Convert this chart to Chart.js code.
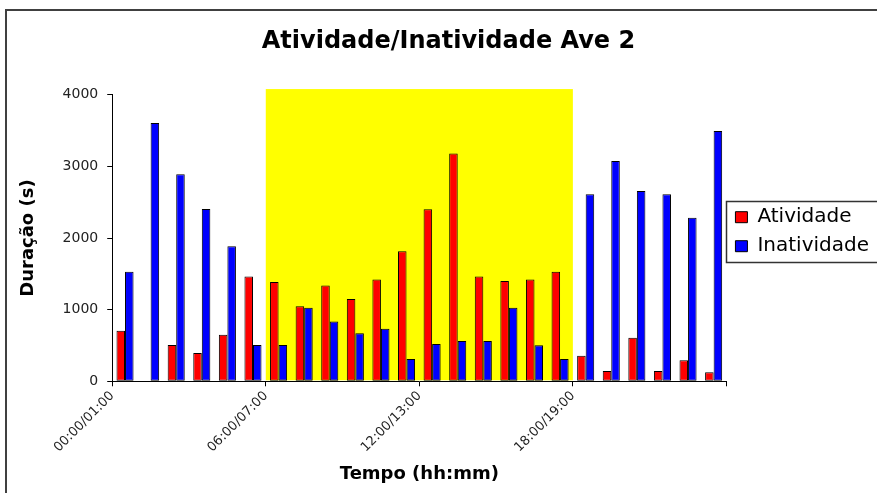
<!DOCTYPE html>
<html>
<head>
<meta charset="utf-8">
<script src="https://cdn.jsdelivr.net/npm/chart.js@4/dist/chart.umd.min.js"></script>
<style>
  html, body { margin: 0; padding: 0; background: #fff; }
  #wrap { width: 877px; height: 493px; }
</style>
</head>
<body>
<div id="wrap"><canvas id="c" width="877" height="493"></canvas></div>
<script>
const categories = [
  '00:00/01:00', '01:00/02:00', '02:00/03:00', '03:00/04:00', '04:00/05:00', '05:00/06:00',
  '06:00/07:00', '07:00/08:00', '08:00/09:00', '09:00/10:00', '10:00/11:00', '11:00/12:00',
  '12:00/13:00', '13:00/14:00', '14:00/15:00', '15:00/16:00', '16:00/17:00', '17:00/18:00',
  '18:00/19:00', '19:00/20:00', '20:00/21:00', '21:00/22:00', '22:00/23:00', '23:00/24:00'
];
const atividade = [706, 0, 507, 395, 651, 1464, 1385, 1046, 1338, 1148, 1422, 1817,
                   2402, 3179, 1464, 1399, 1422, 1529, 356, 144, 609, 144, 293, 125];
const inatividade = [1529, 3606, 2890, 2407, 1887, 507, 507, 1027, 836, 669, 734, 311,
                     520, 562, 562, 1027, 502, 311, 2612, 3076, 2658, 2612, 2282, 3495];
const yTicks = [0, 1000, 2000, 3000, 4000];
const labelEvery = 6;
// highlighted (daylight) period: categories 6..17
const highlightStart = 6;
const highlightEnd = 17;
const highlightTop = 4080;

const bgPlugin = {
  id: 'bg',
  beforeDraw(chart) {
    const ctx = chart.ctx;
    ctx.save();
    ctx.fillStyle = '#ffffff';
    ctx.fillRect(0, 0, chart.width, chart.height);
    ctx.restore();
  },
  afterDraw(chart) {
    const ctx = chart.ctx;
    ctx.save();
    ctx.strokeStyle = '#404040';
    ctx.lineWidth = 2;
    ctx.strokeRect(6, 10, chart.width + 20, chart.height + 20);
    const lg = chart.legend;
    if (lg && lg.legendHitBoxes && lg.legendHitBoxes.length) {
      const hb = lg.legendHitBoxes;
      const top = hb[0].top - 6;
      const bot = hb[hb.length - 1].top + hb[hb.length - 1].height + 6;
      ctx.strokeStyle = '#333';
      ctx.lineWidth = 1.5;
      ctx.strokeRect(Math.round(lg.left) + 0.5, Math.round(top) + 0.5, chart.width, Math.round(bot - top));
    }
    ctx.restore();
  }
};

const highlightPlugin = {
  id: 'highlight',
  beforeDatasetsDraw(chart) {
    const xs = chart.scales.x, ys = chart.scales.y;
    const left = (xs.getPixelForValue(highlightStart - 1) + xs.getPixelForValue(highlightStart)) / 2;
    const right = (xs.getPixelForValue(highlightEnd) + xs.getPixelForValue(highlightEnd + 1)) / 2;
    const top = ys.getPixelForValue(highlightTop);
    const bottom = ys.getPixelForValue(0) - 1;
    const ctx = chart.ctx;
    ctx.save();
    ctx.fillStyle = '#FFFF00';
    ctx.fillRect(left, top, right - left, bottom - top);
    ctx.restore();
  }
};

new Chart(document.getElementById('c'), {
  type: 'bar',
  data: {
    labels: categories,
    datasets: [
      { label: 'Atividade', data: atividade, backgroundColor: '#FF0000', borderColor: '#000', borderWidth: 1, borderSkipped: false },
      { label: 'Inatividade', data: inatividade, backgroundColor: '#0000FF', borderColor: '#000', borderWidth: 1, borderSkipped: false }
    ]
  },
  options: {
    responsive: false,
    animation: false,
    devicePixelRatio: 1,
    datasets: { bar: { categoryPercentage: 0.667, barPercentage: 1.0 } },
    layout: { padding: { left: 18, right: -2, top: 0, bottom: 8 } },
    plugins: {
      tooltip: { enabled: false },
      title: {
        display: true,
        text: 'Atividade/Inatividade Ave 2',
        color: '#000',
        font: { family: 'DejaVu Sans', size: 24, weight: 'bold' },
        padding: { top: 27, bottom: 39 }
      },
      legend: {
        position: 'right',
        align: 'start',
        title: { display: true, text: '', font: { size: 1 }, padding: { top: 197, bottom: 0 } },
        labels: {
          color: '#000',
          font: { family: 'DejaVu Sans', size: 20 },
          boxWidth: 12,
          boxHeight: 11,
          padding: 9
        }
      }
    },
    scales: {
      x: {
        type: 'category',
        offset: true,
        grid: {
          display: true,
          offset: true,
          drawOnChartArea: false,
          tickLength: 5,
          tickColor: (ctx) => (ctx.index === undefined || ctx.index % labelEvery === 0) ? '#000' : 'rgba(0,0,0,0)'
        },
        border: { color: '#000', width: 1 },
        ticks: {
          autoSkip: false,
          minRotation: 45,
          maxRotation: 45,
          labelOffset: -12.7,
          padding: 2,
          color: '#222',
          font: { family: 'DejaVu Sans', size: 13 },
          callback: function (value, index) { return index % labelEvery === 0 ? categories[index] : ''; }
        },
        title: {
          display: true,
          text: 'Tempo (hh:mm)',
          color: '#000',
          font: { family: 'DejaVu Sans', size: 18, weight: 'bold' },
          padding: { top: 6, bottom: 0 }
        }
      },
      y: {
        min: 0,
        max: 4000,
        afterBuildTicks: (scale) => { scale.ticks = yTicks.map(v => ({ value: v })); },
        grid: { drawOnChartArea: false, tickLength: 5, tickColor: '#000' },
        border: { color: '#000', width: 1 },
        ticks: {
          padding: 9,
          color: '#222',
          font: { family: 'DejaVu Sans', size: 14 },
          callback: (v) => String(v)
        },
        title: {
          display: true,
          text: 'Duração (s)',
          color: '#000',
          font: { family: 'DejaVu Sans', size: 18, weight: 'bold' },
          padding: { top: 0, bottom: 14 }
        }
      }
    }
  },
  plugins: [bgPlugin, highlightPlugin]
});
</script>
</body>
</html>
